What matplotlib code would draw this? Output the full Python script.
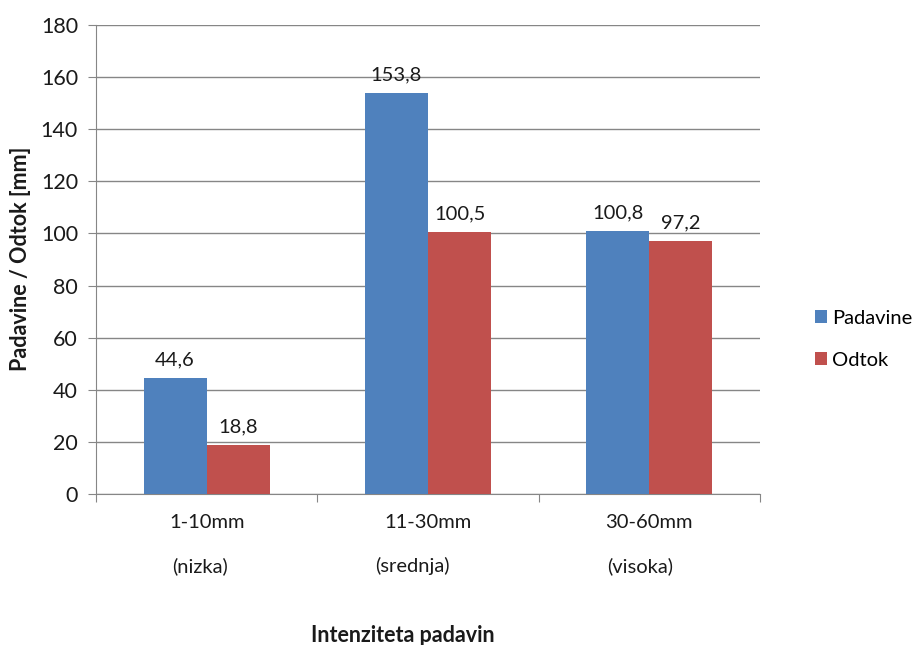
import numpy as np
import matplotlib.pyplot as plt
from matplotlib.transforms import blended_transform_factory

categories = ['1-10mm', '11-30mm', '30-60mm']
sublabels = ['(nizka)', '(srednja)', '(visoka)']
padavine = [44.6, 153.8, 100.8]
odtok = [18.8, 100.5, 97.2]

blue = '#4F81BD'
red = '#C0504D'
grid_col = '#868686'

plt.rcParams['font.family'] = ['Lato', 'DejaVu Sans']

fig = plt.figure(figsize=(9.17, 6.45), dpi=100)
ax = fig.add_axes([0.1047, 0.2341, 0.7241, 0.7271])

x = np.arange(len(categories))
w = 0.285
b1 = ax.bar(x - w / 2, padavine, w, color=blue, label='Padavine', zorder=3)
b2 = ax.bar(x + w / 2, odtok, w, color=red, label='Odtok', zorder=3)

for bars, vals in ((b1, padavine), (b2, odtok)):
    for r, v in zip(bars, vals):
        ax.annotate(f'{v:.1f}'.replace('.', ','),
                    (r.get_x() + r.get_width() / 2, r.get_height()),
                    xytext=(0, 7), textcoords='offset points',
                    ha='center', va='bottom', fontsize=14.5, color='#1a1a1a')

ax.set_xlim(-0.5, 2.5)
ax.set_ylim(0, 180)
ax.set_yticks(range(0, 181, 20))
ax.yaxis.grid(True, color=grid_col, linewidth=1, zorder=0)
ax.tick_params(axis='y', length=6, color=grid_col, labelsize=15.5, pad=7,
               labelcolor='#1a1a1a')

# category boundary ticks
ax.set_xticks([-0.5, 0.5, 1.5, 2.5])
ax.set_xticklabels([])
ax.tick_params(axis='x', length=6, color=grid_col)
for s in ('top', 'right'):
    ax.spines[s].set_visible(False)
ax.spines['left'].set_color(grid_col)
ax.spines['bottom'].set_color(grid_col)

tr = blended_transform_factory(ax.transData, fig.transFigure)
for i, c in enumerate(categories):
    ax.text(x[i], 1 - 523 / 645, c, transform=tr, ha='center', va='center',
            fontsize=14.5, color='#1a1a1a')
sub_pos = [-0.03, -0.07, -0.04]
for i, s in enumerate(sublabels):
    ax.text(x[i] + sub_pos[i], 1 - 566 / 645, s, transform=tr, ha='center',
            va='center', fontsize=14.5, color='#1a1a1a')

fig.text(0.439, 1 - 635 / 645, 'Intenziteta padavin', ha='center',
         va='center', fontsize=15.5, fontweight='bold', color='#1a1a1a')
fig.text(0.022, 1 - 259 / 645, 'Padavine / Odtok [mm]', rotation=90,
         ha='center', va='center', fontsize=15.5, fontweight='bold',
         color='#1a1a1a')

ax.legend(loc='center left', bbox_to_anchor=(1.064, 0.33), frameon=False,
          fontsize=14.5, handlelength=0.6, handleheight=0.6,
          handletextpad=0.25, labelspacing=1.25, borderaxespad=0.2)

fig.savefig('out.png', dpi=100)
